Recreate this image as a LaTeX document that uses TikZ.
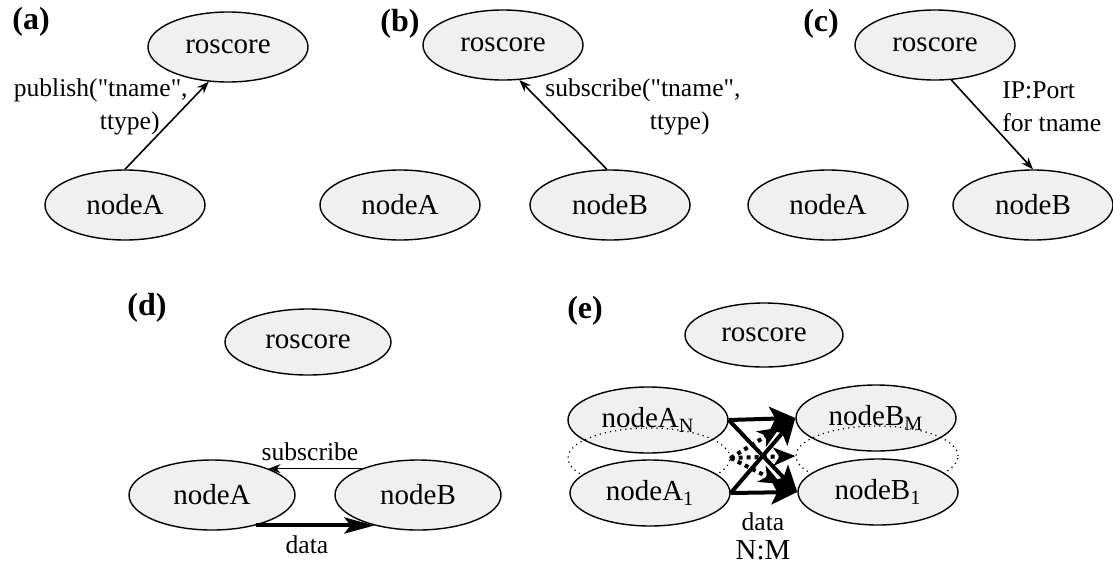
\documentclass[tikz,border=0pt]{standalone}
\usepackage{fontspec}
\setmainfont{Liberation Serif}[Ligatures=TeXOff]
\usetikzlibrary{arrows.meta,shapes.geometric}
\begin{document}
\begin{tikzpicture}[x=0.5pt,y=-0.5pt,
  ell/.style={ellipse,draw,fill=black!6,line width=0.7pt,minimum width=80pt,minimum height=35pt,inner sep=0pt,font=\fontsize{14.5}{17}\selectfont},
  elle/.style={ell,minimum width=80pt,minimum height=33pt},
  dotell/.style={ellipse,draw,dotted,line width=0.6pt,minimum width=81pt,minimum height=30pt,inner sep=0pt},
  panel/.style={inner sep=0pt,font=\bfseries\fontsize{16}{19}\selectfont},
  lbl/.style={inner sep=0pt,font=\fontsize{12.8}{16.5}\selectfont},
  thinarrow/.style={line width=0.8pt,-{Stealth[length=6pt,width=4.5pt]}},
  thickarrow/.style={line width=2pt,-{Stealth[length=15pt,width=8pt,inset=3pt]}},
  bigarrow/.style={line width=2pt,-{Stealth[length=13pt,width=12pt,inset=3pt]}},
  dotarrow/.style={line width=2pt,dash pattern=on 2pt off 2pt,-{Stealth[length=11pt,width=9pt,inset=3pt]}}]
\path[use as bounding box] (0,0) rectangle (1113,563);

% (a)
\node[panel] (pa) at (31,22) {(a)};
\node[ell] (aRos) at (228,47) {roscore};
\node[ell] (aA) at (125,205) {nodeA};
\draw[thinarrow] (aA.north) -- (aRos.241);
\node[lbl,anchor=east] (la1) at (188,90) {publish("tname",};
\node[lbl,anchor=east] (la2) at (160,123) {ttype)};

% (b)
\node[panel] (pb) at (400,24) {(b)};
\node[ell] (bRos) at (503,45) {roscore};
\node[ell] (bA) at (400,205) {nodeA};
\node[ell] (bB) at (610,205) {nodeB};
\draw[thinarrow] (bB.95) -- (bRos.295);
\node[lbl,anchor=west] (lb1) at (545,90) {subscribe("tname",};
\node[lbl,anchor=east] (lb2) at (710,123) {ttype)};

% (c)
\node[panel] (pc) at (821,24) {(c)};
\node[ell] (cRos) at (935,45) {roscore};
\node[ell] (cA) at (828,205) {nodeA};
\node[ell] (cB) at (1033,205) {nodeB};
\draw[thinarrow] (cRos.295) -- (cB.north);
\node[lbl,anchor=west,align=left] (lc) at (1002,107) {IP:Port\\for tname};

% (d)
\node[panel] (pd) at (147,308) {(d)};
\node[ell,minimum width=83pt,minimum height=33pt] (dRos) at (308,342) {roscore};
\node[ell,minimum width=83pt] (dA) at (212,495) {nodeA};
\node[ell,minimum width=83pt] (dB) at (418,495) {nodeB};
\draw[thinarrow] (dB.155) -- (dA.25);
\draw[thickarrow] (dA.-35) -- (dB.-145);
\node[lbl] (ld1) at (310,452) {subscribe};
\node[lbl] (ld2) at (307,545) {data};

% (e)
\node[panel] (pe) at (585,311) {(e)};
\node[elle,minimum width=79pt,minimum height=32pt] (eRos) at (764,335) {roscore};
\node[elle] (eAN) at (648,420) {nodeA\textsubscript{N}};
\node[dotell] (eAm) at (649,458) {};
\node[elle] (eA1) at (650,493) {nodeA\textsubscript{1}};
\node[elle] (eBM) at (876,418) {nodeB\textsubscript{M}};
\node[dotell] (eBm) at (877,456) {};
\node[elle] (eB1) at (878,492) {nodeB\textsubscript{1}};
\draw[dotarrow,shorten >=9pt] (eAm.east) -- (eBM.west);
\draw[dotarrow,shorten >=9pt] (eAm.east) -- (eB1.west);
\draw[dotarrow] (eAm.east) -- (eBm.west);
\draw[bigarrow] (eAN.east) -- (eBM.west);
\draw[bigarrow] (eAN.east) -- (eB1.west);
\draw[bigarrow] (eA1.east) -- (eBM.west);
\draw[bigarrow] (eA1.east) -- (eB1.west);
\node[lbl] (le1) at (763,522) {data};
\node[inner sep=0pt,font=\fontsize{14.5}{17}\selectfont] (le2) at (763,550) {N:M};
\end{tikzpicture}
\end{document}
